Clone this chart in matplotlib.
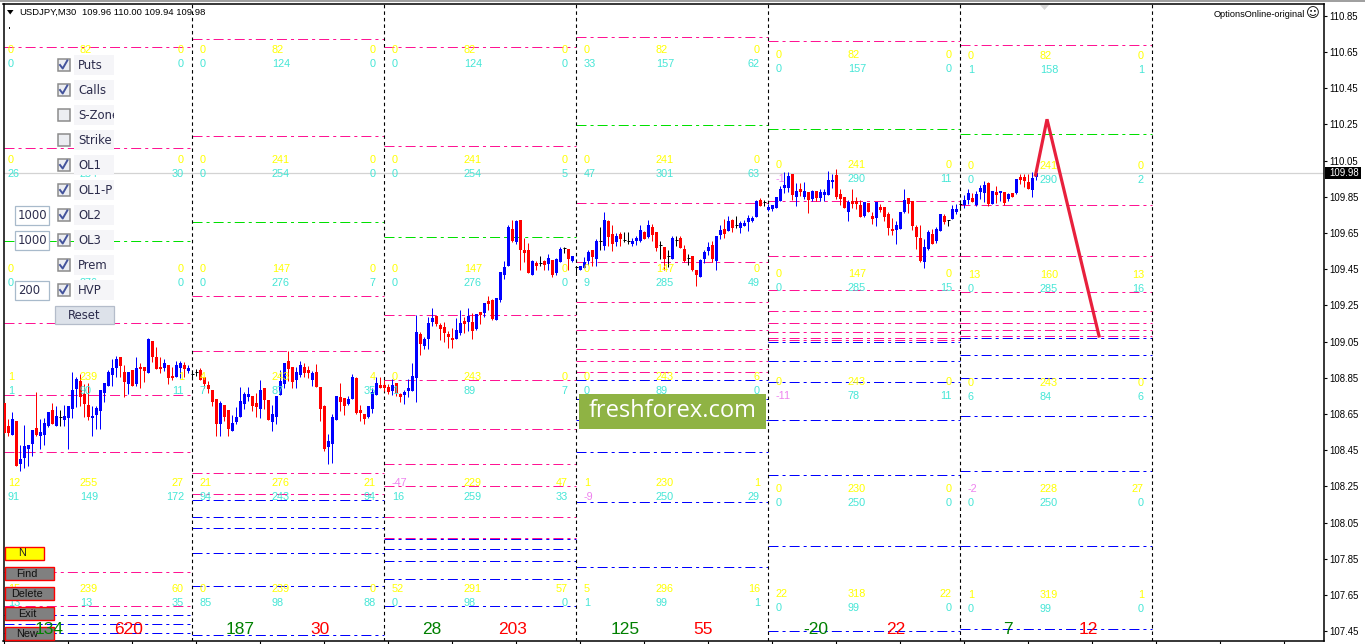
"""USDJPY M30 candles with option levels, rebuilt in matplotlib."""
import matplotlib

matplotlib.use("Agg")
import matplotlib.pyplot as plt
from matplotlib.patches import Polygon, Rectangle

plt.rcParams["lines.scale_dashes"] = False
plt.rcParams["font.family"] = ["Liberation Sans", "DejaVu Sans"]

# OHLC per candle
opens = [
    108.710, 108.583, 108.534, 108.611, 108.373, 108.406, 108.456, 108.484, 108.572, 108.528,
    108.534, 108.583, 108.672, 108.583, 108.633, 108.617, 108.628, 108.677, 108.788, 108.832,
    108.760, 108.699, 108.628, 108.644, 108.666, 108.766, 108.804, 108.865, 108.904, 108.965,
    108.882, 108.815, 108.893, 108.815, 108.909, 108.909, 108.876, 109.053, 108.965, 108.909,
    108.904, 108.920, 108.860, 108.854, 108.904, 108.920, 108.887, 108.871,
    108.882, 108.893, 108.854, 108.810, 108.782, 108.733, 108.594, 108.699, 108.672, 108.556,
    108.605, 108.633, 108.705, 108.744, 108.749, 108.710, 108.677, 108.793, 108.727, 108.605,
    108.633, 108.755, 108.815, 108.943, 108.909, 108.838, 108.865, 108.909, 108.893, 108.838,
    108.882, 108.799, 108.694, 108.467, 108.484, 108.617, 108.744, 108.738, 108.705, 108.733,
    108.849, 108.672, 108.650, 108.633, 108.677, 108.755, 108.810, 108.810,
    108.799, 108.777, 108.821, 108.760, 108.755, 108.777, 108.777, 108.849,
    109.092, 109.025, 109.064, 109.158, 109.191, 109.141, 109.130, 109.092, 109.070, 109.064,
    109.097, 109.163, 109.158, 109.158, 109.119, 109.213, 109.208, 109.274, 109.280, 109.169,
    109.280, 109.418, 109.467, 109.672, 109.600, 109.722, 109.556, 109.556, 109.418, 109.484,
    109.484, 109.495, 109.478, 109.501, 109.429, 109.489, 109.567, 109.561, 109.495, 109.462,
    109.445, 109.456, 109.495, 109.556, 109.506, 109.606, 109.578, 109.716, 109.644, 109.600,
    109.644, 109.611, 109.606, 109.589, 109.606, 109.606, 109.655, 109.628, 109.683, 109.655,
    109.583, 109.572, 109.523, 109.506, 109.611, 109.622, 109.561, 109.512, 109.523, 109.445,
    109.407, 109.506, 109.550, 109.583, 109.495, 109.639, 109.672, 109.660, 109.722, 109.694,
    109.677, 109.688, 109.711, 109.716, 109.738, 109.832, 109.821, 109.777,
    109.782, 109.788, 109.827, 109.898, 109.898, 109.976, 109.849, 109.893, 109.849, 109.876,
    109.838, 109.882, 109.843, 109.860, 109.860, 109.931, 109.970, 109.865, 109.849, 109.766,
    109.827, 109.827, 109.804, 109.744, 109.815, 109.744, 109.733, 109.793, 109.793, 109.755,
    109.672, 109.666, 109.672, 109.766, 109.843, 109.827, 109.683, 109.622, 109.489, 109.561,
    109.644, 109.606, 109.660, 109.744, 109.722, 109.727, 109.766, 109.810,
    109.804, 109.832, 109.843, 109.804, 109.876, 109.871, 109.926, 109.810, 109.876, 109.871,
    109.876, 109.838, 109.871, 109.871, 109.959, 109.959, 109.931, 109.887, 109.96,
]
highs = [
    108.710, 108.622, 108.661, 108.611, 108.478, 108.589, 108.478, 108.561, 108.771, 108.622,
    108.628, 108.661, 108.710, 108.694, 108.672, 108.699, 108.694, 108.882, 108.854, 108.871,
    108.815, 108.821, 108.694, 108.694, 108.782, 108.821, 108.893, 108.954, 108.970, 108.965,
    108.920, 108.882, 108.893, 108.965, 108.931, 108.909, 109.070, 109.053, 109.020, 108.965,
    108.954, 108.920, 108.909, 108.943, 108.943, 108.937, 108.920, 108.893,
    108.898, 108.904, 108.854, 108.832, 108.782, 108.733, 108.721, 108.699, 108.672, 108.644,
    108.688, 108.799, 108.771, 108.799, 108.749, 108.766, 108.838, 108.793, 108.727, 108.699,
    108.749, 108.893, 108.931, 108.998, 108.909, 108.909, 108.943, 108.931, 108.915, 108.887,
    108.926, 108.799, 108.699, 108.539, 108.650, 108.749, 108.821, 108.738, 108.749, 108.871,
    108.854, 108.699, 108.650, 108.694, 108.793, 108.854, 108.854, 108.838,
    108.815, 108.843, 108.821, 108.766, 108.782, 108.843, 108.931, 109.197,
    109.103, 109.075, 109.186, 109.235, 109.191, 109.152, 109.158, 109.108, 109.125, 109.180,
    109.224, 109.186, 109.235, 109.208, 109.202, 109.213, 109.263, 109.302, 109.285, 109.291,
    109.434, 109.495, 109.694, 109.722, 109.722, 109.722, 109.622, 109.594, 109.501, 109.495,
    109.523, 109.501, 109.534, 109.501, 109.512, 109.572, 109.572, 109.561, 109.523, 109.462,
    109.467, 109.517, 109.556, 109.556, 109.617, 109.683, 109.766, 109.722, 109.694, 109.650,
    109.655, 109.655, 109.655, 109.622, 109.633, 109.694, 109.660, 109.722, 109.699, 109.655,
    109.606, 109.572, 109.556, 109.633, 109.633, 109.633, 109.583, 109.534, 109.523, 109.445,
    109.506, 109.556, 109.600, 109.606, 109.633, 109.694, 109.727, 109.744, 109.727, 109.744,
    109.716, 109.722, 109.749, 109.744, 109.832, 109.843, 109.832, 109.810,
    109.804, 109.849, 109.909, 109.987, 109.987, 109.976, 109.926, 109.926, 109.931, 109.876,
    109.887, 109.882, 109.893, 109.893, 109.992, 109.976, 110.003, 109.893, 109.849, 109.832,
    109.893, 109.849, 109.832, 109.821, 109.815, 109.766, 109.821, 109.810, 109.793, 109.766,
    109.733, 109.716, 109.766, 109.893, 109.843, 109.827, 109.694, 109.694, 109.617, 109.666,
    109.672, 109.683, 109.755, 109.755, 109.722, 109.804, 109.810, 109.832,
    109.860, 109.893, 109.871, 109.882, 109.915, 109.937, 109.931, 109.882, 109.909, 109.882,
    109.876, 109.871, 109.871, 109.948, 109.976, 109.976, 109.976, 109.987, 110.00,
]
lows = [
    108.545, 108.528, 108.534, 108.362, 108.335, 108.351, 108.362, 108.417, 108.528, 108.456,
    108.478, 108.578, 108.594, 108.583, 108.583, 108.583, 108.456, 108.628, 108.688, 108.694,
    108.633, 108.617, 108.528, 108.567, 108.567, 108.716, 108.804, 108.804, 108.854, 108.854,
    108.744, 108.760, 108.804, 108.804, 108.793, 108.827, 108.876, 108.937, 108.898, 108.876,
    108.887, 108.815, 108.838, 108.854, 108.849, 108.854, 108.876, 108.849,
    108.860, 108.838, 108.793, 108.766, 108.694, 108.528, 108.528, 108.611, 108.528, 108.556,
    108.594, 108.633, 108.677, 108.721, 108.666, 108.633, 108.628, 108.677, 108.617, 108.556,
    108.594, 108.755, 108.793, 108.832, 108.793, 108.793, 108.854, 108.854, 108.849, 108.804,
    108.799, 108.611, 108.445, 108.373, 108.379, 108.617, 108.666, 108.644, 108.699, 108.733,
    108.650, 108.611, 108.594, 108.628, 108.655, 108.755, 108.793, 108.777,
    108.760, 108.755, 108.749, 108.716, 108.705, 108.744, 108.777, 108.716,
    108.976, 109.009, 109.009, 109.136, 109.136, 109.059, 109.047, 109.014, 109.014, 109.064,
    109.086, 109.097, 109.108, 109.064, 109.114, 109.147, 109.186, 109.224, 109.169, 109.169,
    109.268, 109.396, 109.467, 109.600, 109.589, 109.445, 109.489, 109.429, 109.418, 109.445,
    109.467, 109.445, 109.445, 109.407, 109.418, 109.489, 109.539, 109.445, 109.489, 109.423,
    109.445, 109.456, 109.473, 109.467, 109.467, 109.556, 109.556, 109.578, 109.550, 109.578,
    109.578, 109.600, 109.589, 109.578, 109.583, 109.600, 109.617, 109.622, 109.606, 109.550,
    109.506, 109.445, 109.462, 109.506, 109.578, 109.567, 109.489, 109.473, 109.440, 109.357,
    109.407, 109.484, 109.528, 109.489, 109.445, 109.617, 109.622, 109.660, 109.655, 109.677,
    109.650, 109.688, 109.660, 109.711, 109.738, 109.799, 109.799, 109.771,
    109.771, 109.788, 109.827, 109.871, 109.876, 109.832, 109.799, 109.854, 109.838, 109.760,
    109.827, 109.827, 109.827, 109.827, 109.860, 109.898, 109.838, 109.804, 109.788, 109.716,
    109.788, 109.782, 109.738, 109.738, 109.766, 109.699, 109.688, 109.766, 109.716, 109.639,
    109.639, 109.589, 109.672, 109.760, 109.760, 109.666, 109.561, 109.489, 109.456, 109.556,
    109.589, 109.594, 109.660, 109.699, 109.688, 109.727, 109.755, 109.777,
    109.788, 109.810, 109.821, 109.799, 109.838, 109.821, 109.799, 109.810, 109.815, 109.827,
    109.804, 109.827, 109.849, 109.865, 109.920, 109.904, 109.893, 109.849, 109.94,
]
closes = [
    108.545, 108.545, 108.622, 108.362, 108.401, 108.473, 108.478, 108.561, 108.534, 108.550,
    108.600, 108.661, 108.594, 108.639, 108.633, 108.639, 108.694, 108.782, 108.843, 108.744,
    108.705, 108.633, 108.639, 108.683, 108.782, 108.821, 108.882, 108.904, 108.954, 108.915,
    108.827, 108.882, 108.804, 108.904, 108.898, 108.887, 109.064, 108.965, 108.898, 108.898,
    108.931, 108.849, 108.849, 108.920, 108.931, 108.898, 108.904, 108.871,
    108.882, 108.838, 108.815, 108.788, 108.716, 108.594, 108.710, 108.633, 108.567, 108.600,
    108.633, 108.721, 108.760, 108.760, 108.694, 108.688, 108.782, 108.727, 108.617, 108.650,
    108.749, 108.832, 108.931, 108.898, 108.827, 108.882, 108.920, 108.876, 108.876, 108.876,
    108.799, 108.677, 108.456, 108.500, 108.633, 108.749, 108.716, 108.694, 108.733, 108.854,
    108.655, 108.655, 108.622, 108.694, 108.771, 108.821, 108.793, 108.793,
    108.771, 108.810, 108.766, 108.744, 108.771, 108.793, 108.860, 109.103,
    109.037, 109.064, 109.152, 109.180, 109.147, 109.119, 109.097, 109.075, 109.059, 109.114,
    109.152, 109.147, 109.191, 109.108, 109.202, 109.197, 109.263, 109.257, 109.175, 109.291,
    109.434, 109.462, 109.683, 109.606, 109.716, 109.556, 109.539, 109.429, 109.495, 109.467,
    109.484, 109.473, 109.512, 109.418, 109.506, 109.561, 109.567, 109.506, 109.523, 109.462,
    109.467, 109.489, 109.545, 109.517, 109.606, 109.606, 109.722, 109.628, 109.589, 109.633,
    109.617, 109.611, 109.606, 109.606, 109.622, 109.666, 109.617, 109.694, 109.639, 109.567,
    109.583, 109.506, 109.523, 109.622, 109.611, 109.567, 109.495, 109.512, 109.445, 109.418,
    109.501, 109.545, 109.572, 109.506, 109.633, 109.666, 109.644, 109.716, 109.677, 109.694,
    109.705, 109.705, 109.733, 109.733, 109.827, 109.799, 109.821, 109.793,
    109.804, 109.849, 109.893, 109.915, 109.965, 109.860, 109.882, 109.876, 109.882, 109.832,
    109.882, 109.843, 109.876, 109.876, 109.942, 109.942, 109.849, 109.838, 109.788, 109.821,
    109.810, 109.810, 109.738, 109.821, 109.766, 109.727, 109.821, 109.777, 109.738, 109.677,
    109.660, 109.694, 109.766, 109.832, 109.810, 109.688, 109.628, 109.495, 109.572, 109.655,
    109.589, 109.672, 109.755, 109.711, 109.722, 109.782, 109.782, 109.810,
    109.832, 109.871, 109.821, 109.865, 109.898, 109.915, 109.810, 109.882, 109.860, 109.882,
    109.815, 109.865, 109.849, 109.948, 109.942, 109.937, 109.893, 109.954, 109.98,
]

# Option levels for each daily block
pink_levels = [
    [110.675, 110.122, 109.150, 108.757, 108.440, 107.778, 107.589],
    [110.719, 110.183, 109.304, 108.995, 108.321, 108.205],
    [110.680, 110.133, 109.194, 108.840, 108.564, 108.376, 108.252, 108.083, 107.967],
    [110.730, 109.818, 109.492, 109.266, 109.111, 109.006, 108.945, 108.884],
    [110.713, 109.824, 109.525, 109.332, 109.216, 109.155, 109.105, 109.072, 109.061],
    [110.686, 109.807, 109.520, 109.326, 109.221, 109.150, 109.111, 109.078],
]
blue_levels = [
    [107.539, 107.492, 107.437],
    [108.177, 108.083, 108.017, 107.884, 107.702, 107.426],
    [107.959, 107.901, 107.840, 107.738, 107.589],
    [108.840, 108.730, 108.619, 108.437, 108.166, 107.807],
    [109.045, 108.940, 108.824, 108.619, 108.315, 107.918, 107.453],
    [109.067, 108.973, 108.851, 108.636, 108.332, 107.923, 107.459],
]
green_levels = [109.603, 109.708, 109.625, 110.244, 110.227, 110.194]

# Candle index of each block's right edge
block_edges = [-0.2, 47, 95, 143, 191, 239, 287]

forecast_x = [257.8, 260.67, 273.67]
forecast_y = [109.97, 110.278, 109.081]

# Number tables: one row per level group, left / middle / right
# None = fully covered by a panel control in the picture
yellow_rows = [
    [[0, 82, 0], [0, None, 0], [0, None, 0], [1, 239, 1], [12, 255, 27], [15, 239, 60]],
    [[0, 82, 0], [0, 241, 0], [0, 147, 0], [4, 243, 4], [21, 276, 21], [0, 239, 0]],
    [[0, 82, 0], [0, 241, 0], [0, 147, 0], [0, 243, 0], [-47, 229, 47], [52, 291, 57]],
    [[0, 82, 0], [0, 241, 0], [0, 147, 0], [0, 243, 6], [1, 230, 1], [5, 296, 16]],
    [[0, 82, 0], [0, 241, 0], [0, 147, 0], [0, 243, 0], [0, 230, 0], [22, 318, 22]],
    [[0, 82, 0], [0, 241, 0], [13, 160, 13], [0, 243, 0], [-2, 228, 27], [1, 319, 1]],
]
cyan_rows = [
    [[0, None, 0], [26, 254, 30], [0, 276, 0], [1, 90, 11], [91, 149, 172], [13, 13, 35]],
    [[0, 124, 0], [0, 254, 0], [0, 276, 7], [7, 87, 35], [94, 243, 94], [85, 98, 88]],
    [[0, 124, 0], [0, 254, 5], [0, 276, 0], [1, 89, 7], [16, 259, 33], [0, 98, 0]],
    [[33, 157, 62], [47, 301, 63], [9, 285, 49], [0, 89, 0], [-9, 250, 29], [1, 99, 1]],
    [[0, 157, 0], [-1, 290, 11], [0, 285, 15], [-11, 78, 11], [0, 250, 0], [0, 99, 0]],
    [[1, 158, 1], [0, 290, 2], [0, 285, 16], [6, 84, 6], [0, 250, 0], [0, 99, 0]],
]
green_totals = [134, 187, 28, 125, -20, 7]
red_totals = [620, 30, 203, 55, 22, 12]

price_ticks = [110.85, 110.65, 110.45, 110.25, 110.05, 109.85, 109.65, 109.45, 109.25,
               109.05, 108.85, 108.65, 108.45, 108.25, 108.05, 107.85, 107.65, 107.45]
last_price = 109.98

check_labels = ["Puts", "Calls", "S-Zone", "Strike", "OL1", "OL1-P", "OL2", "OL3", "Prem", "HVP"]
check_states = [True, True, False, False, True, True, True, True, True, True]

PINK = "#FF1493"
BLUE = "#0000FF"
GREEN = "#00E000"
RED = "#FF0000"
DASHDOT = (0, (7.2, 2.9, 2.2, 2.9))

fig = plt.figure(figsize=(13.65, 6.44), dpi=100)
ax = fig.add_axes([3.5 / 1365, 3 / 644, 1320 / 1365, 637 / 644])
ax.set_xlim(-0.2075, 329.79)
ax.set_ylim(107.3954, 110.9149)
ax.set_zorder(1)

# overlay in screen pixels for the panel, buttons and banner
ov = fig.add_axes([0, 0, 1, 1])
ov.set_xlim(0, 1365)
ov.set_ylim(644, 0)
ov.axis("off")
ov.patch.set_visible(False)
ov.set_zorder(5)

# levels and block dividers
for n in range(6):
    x0, x1 = block_edges[n], block_edges[n + 1]
    ax.hlines(pink_levels[n], x0, x1, colors=PINK, lw=0.72, linestyles=[DASHDOT], zorder=1, snap=True)
    ax.hlines(blue_levels[n], x0, x1, colors=BLUE, lw=0.72, linestyles=[DASHDOT], zorder=1, snap=True)
    ax.hlines(green_levels[n], x0, x1, colors=GREEN, lw=0.72, linestyles=[DASHDOT], zorder=1, snap=True)
    ax.axvline(x1, color="black", lw=0.8, linestyle=(0, (2.5, 2.2)), zorder=2)

ax.axhline(last_price, color="#D3D3D3", lw=0.9, zorder=2)

# candles
idx = list(range(len(opens)))
up_colour = []
for o, c in zip(opens, closes):
    if c > o:
        up_colour.append(BLUE)
    elif c < o:
        up_colour.append(RED)
    else:
        up_colour.append("black")
ax.vlines(idx, lows, highs, colors=up_colour, lw=0.72, zorder=3, snap=True)
body_low = [min(o, c) for o, c in zip(opens, closes)]
body_size = [abs(c - o) for o, c in zip(opens, closes)]
ax.bar(idx, body_size, bottom=body_low, width=0.76, color=up_colour, linewidth=0,
       zorder=3, antialiased=False)
for i in idx:
    if opens[i] == closes[i]:
        ax.hlines(opens[i], i - 0.38, i + 0.38, colors="black", lw=0.72, zorder=3, snap=True)

ax.plot(forecast_x, forecast_y, color="#E8203C", lw=2.3, zorder=6, solid_joinstyle="miter")

# axes furniture
ax.yaxis.tick_right()
ax.set_yticks(price_ticks)
ax.set_yticklabels(["%.2f" % p for p in price_ticks])
ax.set_xticks(range(0, 330, 16))
ax.set_xticklabels([])
ax.tick_params(axis="y", length=2.5, width=0.8, labelsize=6.9, pad=1.5, colors="black")
ax.tick_params(axis="x", length=2.2, width=0.8)
for spine in ax.spines.values():
    spine.set_linewidth(1.1)
    spine.set_color("black")

# number tables, drawn below the overlay widgets
yellow_y = [
    [50, 160, 269, 377, 483, 589], [50, 160, 269, 377, 483, 589], [50, 160, 269, 377, 483, 589],
    [50, 160, 269, 377, 483, 589], [55, 165, 274, 382, 489, 594], [56, 166, 275, 383, 489, 595],
]
for n in range(6):
    left = 192 * n
    for r in range(6):
        for rows, colour, dy in ((yellow_rows, "#FFFF00", 0), (cyan_rows, "#45E6D6", 14)):
            vals = rows[n][r]
            y = yellow_y[n][r] + dy
            for v, xoff, ha in zip(vals, (8, 80, 184), ("left", "left", "right")):
                if v is None:
                    continue
                c = "#EE82EE" if v < 0 else colour
                ax.text(left + xoff, y, str(v), color=c, fontsize=7.8, ha=ha, va="center",
                        transform=ov.transData, zorder=4)

# big totals
green_x = [49.5, 240.5, 432, 625, 816, 1008]
red_x = [128.5, 320, 512.5, 703.5, 895.5, 1088.5]
for gx, rx, g, r in zip(green_x, red_x, green_totals, red_totals):
    ov.text(gx, 630, str(g), color="#008000", fontsize=12.5, ha="center", va="center", zorder=9)
    ov.text(rx, 630, str(r), color=RED, fontsize=12.5, ha="center", va="center", zorder=9)

# header
ov.add_patch(Polygon([(7, 10), (13.5, 10), (10.2, 14.5)], closed=True, color="black", lw=0))
ov.text(19, 12.5, "USDJPY,M30", fontsize=6.8, ha="left", va="center")
ov.text(82, 12.5, "109.96 110.00 109.94 109.98", fontsize=6.8, ha="left", va="center")
ov.text(1214, 14, "OptionsOnline-original", fontsize=6.6, ha="left", va="center")
ov.text(1312.5, 14, "\u263a", fontsize=9.5, family="DejaVu Sans", ha="center", va="center")
ov.add_patch(Rectangle((0, 0), 1365, 2, color="#A0A0A0", lw=0))
ov.add_patch(Polygon([(1040, 5), (1049, 5), (1044.5, 10)], closed=True, color="#D8D8D8", lw=0))
ov.plot([9.3, 9.3], [26.8, 28.2], color="black", lw=0.7)

# last price tag
ov.add_patch(Rectangle((1325, 167), 36, 11.5, color="black", lw=0, zorder=3))
ov.text(1329, 172.8, "%.2f" % last_price, color="white", fontsize=6.9, ha="left", va="center",
        zorder=4)

# check boxes
for k, (label, state) in enumerate(zip(check_labels, check_states)):
    top = 59 + 25 * k
    box = Rectangle((74, top - 4), 40, 20, facecolor="#F5F5F8", edgecolor="none", zorder=2)
    ov.add_patch(box)
    ov.add_patch(Rectangle((57.5, top), 12.5, 12, facecolor="#ECEEF2", edgecolor="#8C8C8C",
                           lw=1.1, zorder=3))
    if state:
        ov.plot([60, 62.7, 67.3], [top + 6, top + 9.5, top + 1.5], color="#44549C", lw=1.4,
                zorder=4)
    txt = ov.text(78, top + 6.5, label, color="#2C2C4C", fontsize=8.4, family="DejaVu Sans",
                  ha="left", va="center", zorder=4)
    txt.set_clip_on(True)
    txt.set_clip_path(box)

# edit boxes and reset button
for top, val in ((205.5, "1000"), (230.5, "1000"), (280.5, "200")):
    ov.add_patch(Rectangle((14.5, top), 34, 19, facecolor="white", edgecolor="#A8BACB", lw=0.9,
                           zorder=3))
    ov.text(18, top + 10, val, color="#2C2C4C", fontsize=8.4, family="DejaVu Sans", ha="left",
            va="center", zorder=4)
ov.add_patch(Rectangle((54.5, 305.5), 59, 18.5, facecolor="#DDE2EA", edgecolor="#B4BCCA", lw=0.9,
                       zorder=3))
ov.text(84, 315, "Reset", color="#2C2C4C", fontsize=8.4, family="DejaVu Sans", ha="center",
        va="center", zorder=4)

# red framed buttons
ov.add_patch(Rectangle((4.5, 546.5), 39, 13.5, facecolor="#FFFF00", edgecolor=RED, lw=1, zorder=3))
ov.text(22.5, 553.5, "N", fontsize=7.8, color="#202020", ha="center", va="center", zorder=4)
for top, label in ((566.5, "Find"), (586.5, "Delete"), (606.5, "Exit"), (626.5, "New")):
    ov.add_patch(Rectangle((4.5, top), 49, 13.5, facecolor="#808080", edgecolor=RED, lw=1,
                           zorder=3))
    ov.text(27, top + 7.2, label, fontsize=7.8, color="#101010", ha="center", va="center", zorder=4)

# banner
ov.add_patch(Rectangle((579, 394), 187, 35, color="#8FB344", lw=0, zorder=6))
ov.text(672.5, 411, "freshforex.com", color="white", fontsize=17, family="Open Sans",
        ha="center", va="center", zorder=7)

fig.savefig("out.png", dpi=100)
